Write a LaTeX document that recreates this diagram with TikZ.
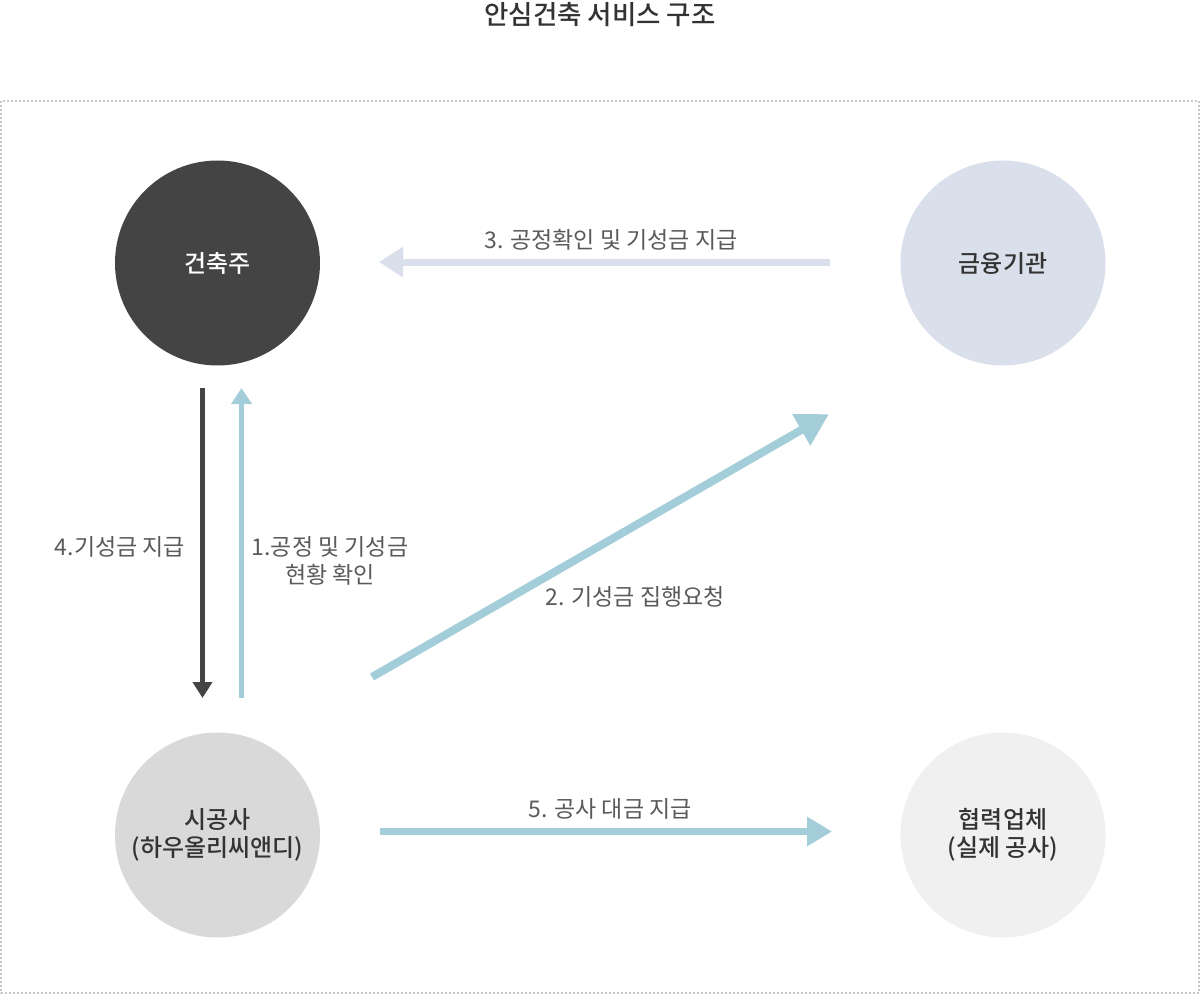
\documentclass[tikz,border=0pt]{standalone}
\usepackage{fontspec}
\setmainfont{Noto Sans CJK KR}
\newfontfamily\krmed{Noto Sans CJK KR Medium}
\usetikzlibrary{arrows.meta}
\definecolor{darkc}{HTML}{444444}
\definecolor{bluec}{HTML}{A3CDD9}
\definecolor{lavc}{HTML}{D9DFEB}
\definecolor{grayc}{HTML}{D9D9D9}
\definecolor{lightc}{HTML}{F0F0F0}
\definecolor{txtc}{HTML}{333333}
\definecolor{lblc}{HTML}{5A5A5A}
\definecolor{borderc}{HTML}{C8C8C8}
\tikzset{
  circ/.style={circle, minimum size=205pt, inner sep=0pt, align=center, font=\krmed\fontsize{24}{28}\selectfont, text=txtc},
  lbl/.style={font=\fontsize{23}{28}\selectfont, text=lblc, align=center, inner sep=0pt},
}
\begin{document}
\begin{tikzpicture}[x=1pt,y=-1pt]
\useasboundingbox (0,0) rectangle (1201,995);
\fill[white] (0,0) rectangle (1201,995);
\node[font=\krmed\fontsize{26.5}{30}\selectfont, text=txtc] (title) at (600,15) {안심건축 서비스 구조};
\draw[borderc, line width=1.4pt, dash pattern=on 2pt off 2pt] (1,101) rectangle (1199,993);

\node[circ, fill=darkc, text=white] (owner) at (217.5,263) {건축주};
\node[circ, fill=lavc] (bank) at (1003,263) {금융기관};
\node[circ, fill=grayc] (builder) at (217.5,835) {시공사\\(하우올리씨앤디)};
\node[circ, fill=lightc] (partner) at (1003,835) {협력업체\\(실제 공사)};

\coordinate (a3s) at (830,262);
\coordinate (a3e) at (379,262);
\coordinate (a4s) at (202.5,388);
\coordinate (a4e) at (202.5,698);
\coordinate (a1s) at (241.5,698);
\coordinate (a1e) at (241.5,388);
\coordinate (a2s) at (372,677);
\coordinate (a2e) at (829,414);
\coordinate (a5s) at (380,831.5);
\coordinate (a5e) at (832,831.5);

\draw[lavc, line width=7pt, -{Triangle[length=24pt,width=29pt]}] (a3s) -- (a3e);
\draw[darkc, line width=5pt, -{Triangle[length=16pt,width=19pt]}] (a4s) -- (a4e);
\draw[bluec, line width=5pt, -{Triangle[length=16pt,width=20pt]}] (a1s) -- (a1e);
\draw[bluec, line width=8pt, -{Triangle[length=32pt,width=34pt]}] (a2s) -- (a2e);
\draw[bluec, line width=7pt, -{Triangle[length=25pt,width=28pt]}] (a5s) -- (a5e);

\node[lbl] (l3) at (611,240) {3. 공정확인 및 기성금 지급};
\node[lbl] (l4) at (120,547) {4.기성금 지급};
\node[lbl] (l1) at (330,561) {1.공정 및 기성금\\현황 확인};
\node[lbl] (l2) at (635,597) {2. 기성금 집행요청};
\node[lbl] (l5) at (610,809) {5. 공사 대금 지급};
\end{tikzpicture}
\end{document}
